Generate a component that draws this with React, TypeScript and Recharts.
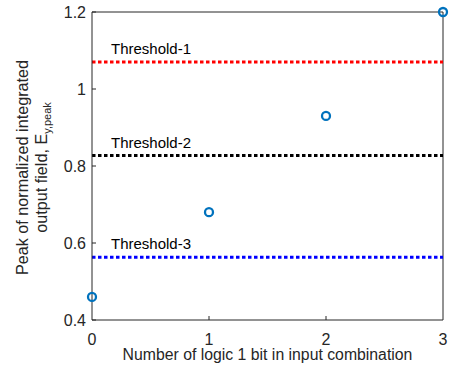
import { ScatterChart, Scatter, XAxis, YAxis, ReferenceLine } from 'recharts';

// data
const bitCounts = [0, 1, 2, 3];
const peakValues = [0.46, 0.68, 0.93, 1.2];
const thresholdNames = ['Threshold-1', 'Threshold-2', 'Threshold-3'];
const thresholdValues = [1.07, 0.827, 0.563];
const thresholdColors = ['#ff0000', '#000000', '#0000ff'];
const xTicks = [0, 1, 2, 3];
const yTicks = [0.4, 0.6, 0.8, 1, 1.2];

const FONT = '"Liberation Sans", Arial, sans-serif';
const AXIS = '#262626';
const BLUE = '#0072BD';
const TICK_LEN = 4;
const X_GAP = 13; // axis line to top of x tick label
const Y_GAP = 6; // axis line to end of y tick label

const points = bitCounts.map((x, i) => ({ x, y: peakValues[i] }));

const RingMarker = (props: any) => {
  const { cx, cy } = props;
  return <circle cx={cx} cy={cy} r={4} fill="none" stroke={BLUE} strokeWidth={2.3} />;
};

// MATLAB style ticks: mark points inward, label sits outside
const XTick = (props: any) => {
  const { x, y, payload } = props;
  const axisY = y - X_GAP;
  return (
    <g>
      {payload.value > 0 && payload.value < 3 && (
        <line x1={x} x2={x} y1={axisY} y2={axisY - TICK_LEN} stroke={AXIS} />
      )}
      <text x={x} y={axisY + X_GAP + 11.5} textAnchor="middle" fontSize={16} fontFamily={FONT} fill={AXIS}>
        {payload.value}
      </text>
    </g>
  );
};

const YTick = (props: any) => {
  const { x, y, payload } = props;
  const axisX = x + Y_GAP;
  return (
    <g>
      <line x1={axisX} x2={axisX + TICK_LEN} y1={y} y2={y} stroke={AXIS} />
      <text x={x} y={y + 5.5} textAnchor="end" fontSize={16} fontFamily={FONT} fill={AXIS}>
        {payload.value}
      </text>
    </g>
  );
};

const ThresholdLabel = (props: any) => {
  const { viewBox, text } = props;
  return (
    <text x={viewBox.x + 19} y={viewBox.y - 8} fontSize={15} fontFamily={FONT} fill="#000">
      {text}
    </text>
  );
};

// two line y label, drawn rotated
const YLabel = () => (
  <g transform="translate(0,167.5) rotate(-90)" fontFamily={FONT} fontSize={16.2} fill={AXIS}>
    <text x={0} y={28} textAnchor="middle">
      Peak of normalized integrated
    </text>
    <text x={0} y={47} textAnchor="middle">
      output field, E
      <tspan dy={4} fontSize={11}>
        y,peak
      </tspan>
    </text>
  </g>
);

export default function App() {
  return (
    <div style={{ position: 'absolute', left: 0, top: 0, width: 454, height: 374, background: '#fff' }}>
      <ScatterChart width={454} height={374} margin={{ top: 12, right: 11, bottom: 0, left: 0 }}>
        <XAxis
          type="number"
          dataKey="x"
          domain={[0, 3]}
          ticks={xTicks}
          height={54}
          stroke={AXIS}
          tickLine={false}
          tickSize={0}
          tickMargin={X_GAP}
          tick={<XTick />}
          label={{
            value: 'Number of logic 1 bit in input combination',
            position: 'insideBottom',
            offset: 14,
            fill: AXIS,
            fontSize: 15.8,
            fontFamily: FONT,
          }}
        />
        <YAxis
          type="number"
          dataKey="y"
          domain={[0.4, 1.2]}
          ticks={yTicks}
          width={92}
          stroke={AXIS}
          tickLine={false}
          tickSize={0}
          tickMargin={Y_GAP}
          tick={<YTick />}
          label={<YLabel />}
        />
        <ReferenceLine y={1.2} stroke={AXIS} strokeWidth={1} />
        <ReferenceLine x={3} stroke={AXIS} strokeWidth={1} />
        {thresholdValues.map((v, i) => (
          <ReferenceLine
            key={thresholdNames[i]}
            y={v}
            stroke={thresholdColors[i]}
            strokeWidth={3}
            strokeDasharray="3.5 2.5"
            label={<ThresholdLabel text={thresholdNames[i]} />}
          />
        ))}
        <Scatter data={points} shape={<RingMarker />} isAnimationActive={false} />
      </ScatterChart>
    </div>
  );
}
